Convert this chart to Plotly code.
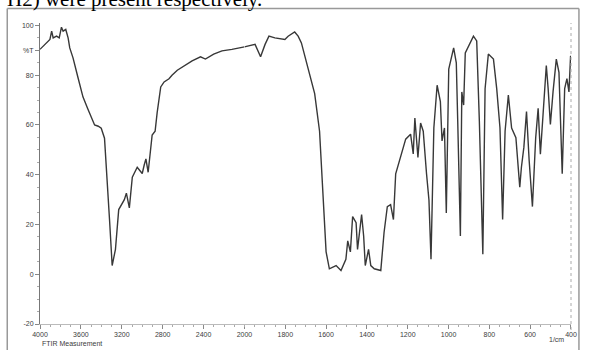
import plotly.graph_objects as go

# Wavenumber (1/cm) and transmittance (%T)
wavenumber = [4000, 3960, 3930, 3903, 3886, 3871, 3838, 3812, 3790, 3774, 3748, 3725, 3709, 3677, 3628,
              3580, 3534, 3500, 3466, 3430, 3401, 3369, 3337, 3320, 3294, 3262, 3230, 3200, 3175, 3155,
              3126, 3097, 3070, 3049, 3020, 3000, 2980, 2964, 2942, 2920, 2903, 2874, 2854, 2819, 2786,
              2738, 2709, 2657, 2609, 2560, 2512, 2430, 2382, 2301, 2220, 2123, 2026,
              2000, 1973, 1948, 1921, 1899, 1880, 1851, 1802, 1786, 1754, 1737, 1721, 1689, 1656, 1632,
              1616, 1600, 1584, 1551, 1527, 1503, 1494, 1481, 1470, 1453, 1446, 1426, 1416, 1408, 1392,
              1381, 1364, 1332, 1316, 1300, 1284, 1270, 1259, 1235, 1210, 1186, 1173, 1165, 1150, 1137,
              1124, 1108, 1096, 1086, 1072, 1056, 1040, 1032, 1020, 1011, 999, 975, 962, 955, 942,
              935, 926, 918, 878, 862, 849, 832, 821, 805, 780, 764, 748, 735, 723, 707, 691, 670,
              651, 643, 631, 618, 605, 589, 573, 561, 550, 537, 521, 512, 501, 488, 472, 459, 443,
              431, 420, 410, 402]
transmittance = [90.4, 92, 93, 94.4, 97.7, 95, 95.7, 95, 99.3, 97.7, 98.4, 95, 91, 87, 79,
                 71.3, 66.6, 63, 60, 59.5, 58.7, 54.7, 35, 22, 3.5, 10, 26, 28.5, 30, 32.6,
                 26.7, 39, 41, 43, 41.5, 40.5, 44, 46.4, 41, 50, 56, 57.5, 65, 75.3, 77.3,
                 78.6, 80, 82, 83.2, 84.5, 85.8, 87.4, 86.5, 88.5, 89.8, 90.4, 91.1,
                 91.4, 91.8, 92.4, 87.4, 92.4, 95.7, 95, 94.4, 95.7, 97.4, 95.7, 93, 83.2, 72.6, 57.5,
                 35, 9, 2.2, 3.5, 1.5, 6, 13.4, 9, 23.2, 20.7, 10, 24, 15.4, 3.5, 10,
                 3.5, 2.2, 1.5, 16.8, 27.2, 28, 22, 40.4, 47, 54.3, 56.3, 48.4, 62.8, 47, 60.8,
                 57.5, 40.5, 29.8, 6, 58.8, 76, 69.4, 53.6, 58.8, 24.6, 82.5, 91, 85, 61.5, 15.4,
                 73.3, 68, 89, 95.7, 93.8, 61.5, 8, 74.6, 88.5, 86.5, 74.6, 58.8, 22, 57.5, 72, 58.8, 54.9,
                 35, 43, 51, 65.4, 45.7, 27.2, 54.9, 66.7, 48.3, 64.1, 83.9, 74.6, 60.2, 73.3, 86.5, 81.2, 40.4,
                 74.6, 78.6, 73.3, 87.8]

x_ticks_high = [4000, 3600, 3200, 2800, 2400, 2000]
x_ticks_low = [1800, 1600, 1400, 1200, 1000, 800, 600, 400]
y_ticks = [-20, 0, 20, 40, 60, 80, 90, 100]
y_tick_text = ["-20", "0", "20", "40", "60", "80", "%T", "100"]

high_w = [w for w in wavenumber if w >= 2000]
high_t = [t for w, t in zip(wavenumber, transmittance) if w >= 2000]
low_w = [w for w in wavenumber if w <= 2000]
low_t = [t for w, t in zip(wavenumber, transmittance) if w <= 2000]

line = dict(color="#383838", width=1.4)
fig = go.Figure()
fig.add_trace(go.Scatter(x=high_w, y=high_t, mode="lines", line=line, xaxis="x", yaxis="y",
                         showlegend=False, hoverinfo="skip"))
fig.add_trace(go.Scatter(x=low_w, y=low_t, mode="lines", line=line, xaxis="x2", yaxis="y",
                         showlegend=False, hoverinfo="skip"))

split = (246 - 40) / 535
tickfont = dict(family="Liberation Sans", size=7, color="#3c3c3c")
axis_common = dict(showgrid=False, zeroline=False, ticks="outside", ticklen=4, tickwidth=1,
                   tickcolor="#888", linecolor="#bbb", linewidth=1, showline=True, tickfont=tickfont)

fig.update_layout(
    width=591, height=350,
    margin=dict(l=40, r=16, t=22.5, b=24),
    paper_bgcolor="white", plot_bgcolor="white",
    xaxis=dict(domain=[0, split], range=[4000, 2000], tickvals=x_ticks_high,
               minor=dict(dtick=100, ticklen=2, tickcolor="#aaa", ticks="outside"),
               anchor="y", **axis_common),
    xaxis2=dict(domain=[split, 1], range=[2000, 400], tickvals=x_ticks_low,
                minor=dict(dtick=50, ticklen=2, tickcolor="#aaa", ticks="outside"),
                anchor="y", **axis_common),
    yaxis=dict(range=[-20, 101], tickvals=y_ticks, ticktext=y_tick_text,
               minor=dict(dtick=5, ticklen=2, tickcolor="#aaa", ticks="outside"),
               **axis_common),
)
fig.update_yaxes(linecolor="#777")

# dotted right border of the plot
fig.add_shape(type="line", xref="paper", yref="paper", x0=1, x1=1, y0=-0.02, y1=1.0,
              line=dict(color="#aaa", width=1, dash="dot"))
# outer frame of the picture
fig.add_shape(type="line", xref="paper", yref="paper", x0=-33/535, x1=-33/535, y0=-0.1, y1=1 + 14.5/303.5,
              line=dict(color="#999", width=1.5))
fig.add_shape(type="line", xref="paper", yref="paper", x0=543/535, x1=543/535, y0=-0.1, y1=1 + 14.5/303.5,
              line=dict(color="#999", width=1.5))
fig.add_shape(type="line", xref="paper", yref="paper", x0=-33/535, x1=543/535, y0=1 + 14.5/303.5, y1=1 + 14.5/303.5,
              line=dict(color="#999", width=1.5))

fig.add_annotation(text="FTIR Measurement", xref="paper", yref="paper", x=0, y=-20/303.5,
                   xanchor="left", yanchor="middle", showarrow=False,
                   font=dict(family="Liberation Sans", size=7, color="#3c3c3c"))
fig.add_annotation(text="1/cm", xref="paper", yref="paper", x=0.99, y=-16/303.5,
                   xanchor="right", yanchor="middle", showarrow=False,
                   font=dict(family="Liberation Sans", size=7, color="#3c3c3c"))
fig.add_annotation(text="H2) were present respectively.", xref="paper", yref="paper",
                   x=-35/535, y=1 + 10/303.5, xanchor="left", yanchor="bottom", showarrow=False,
                   font=dict(family="Liberation Serif", size=21, color="black"))

fig.write_html("out.html")
